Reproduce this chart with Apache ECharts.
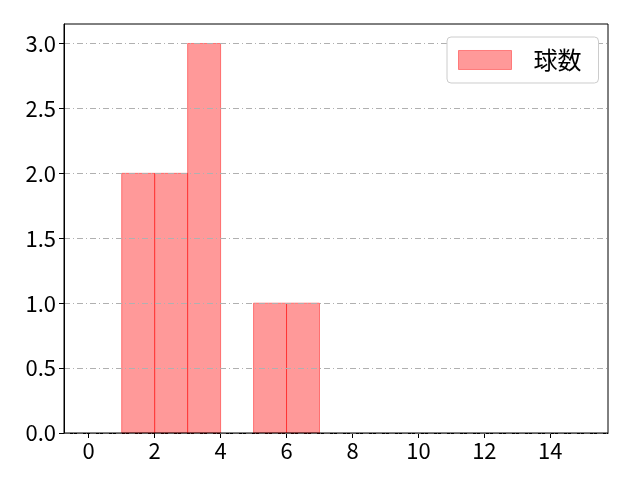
<!DOCTYPE html>
<html>
<head>
<meta charset="utf-8">
<script src="https://cdn.jsdelivr.net/npm/echarts@6/dist/echarts.min.js"></script>
<style>
  html, body { margin: 0; padding: 0; background: #fff; }
  #chart { width: 640px; height: 480px; }
</style>
</head>
<body>
<div id="chart"></div>
<script>
// bin edges (left side, width 1) and counts
var binStarts = [0, 1, 2, 3, 4, 5, 6, 7, 8, 9, 10, 11, 12, 13, 14];
var binWidth = 1;
var counts = [0, 2, 2, 3, 0, 1, 1, 0, 0, 0, 0, 0, 0, 0, 0];
var xTicks = [0, 2, 4, 6, 8, 10, 12, 14];
var yTicks = [0, 0.5, 1.0, 1.5, 2.0, 2.5, 3.0];
var seriesName = '球数';

var font = '"Noto Sans CJK JP", "DejaVu Sans", sans-serif';

var histData = [];
for (var i = 0; i < binStarts.length; i++) {
    if (counts[i] > 0) {
        histData.push([binStarts[i], binStarts[i] + binWidth, counts[i]]);
    }
}

var myChart = echarts.init(document.getElementById('chart'));

myChart.setOption({
    animation: false,
    grid: { left: 64, right: 32, top: 24, bottom: 47 },
    legend: {
        left: 447,
        top: 37,
        padding: [11, 17, 11, 11],
        borderColor: '#cccccc',
        borderWidth: 1,
        borderRadius: 4,
        backgroundColor: '#ffffff',
        itemWidth: 53,
        itemHeight: 19,
        icon: 'rect',
        textStyle: { fontFamily: font, fontSize: 24, color: '#000', padding: [0, 0, 0, 17] },
        data: [{ name: seriesName, itemStyle: { color: 'rgba(255,0,0,0.4)', borderColor: 'rgba(255,0,0,0.4)', borderWidth: 1 } }]
    },
    xAxis: {
        type: 'value',
        min: -0.75,
        max: 15.75,
        splitLine: { show: false },
        axisLine: { onZero: false, lineStyle: { color: '#000', width: 1 } },
        axisTick: { show: true, length: 5, lineStyle: { color: '#000' }, customValues: xTicks },
        axisLabel: { fontFamily: font, fontSize: 22, color: '#000', margin: 7, customValues: xTicks }
    },
    yAxis: {
        type: 'value',
        min: 0,
        max: 3.15,
        z: 3,
        axisLine: { show: true, onZero: false, lineStyle: { color: '#000', width: 1 } },
        axisTick: { show: true, length: 5, lineStyle: { color: '#000' }, customValues: yTicks },
        axisLabel: {
            fontFamily: font, fontSize: 22, color: '#000', margin: 8,
            customValues: yTicks,
            formatter: function (v) { return v.toFixed(1); }
        },
        splitLine: {
            show: true,
            customValues: yTicks,
            lineStyle: { color: '#b0b0b0', width: 1, type: [6, 3, 1, 3] }
        }
    },
    series: [{
        name: seriesName,
        type: 'custom',
        data: histData,
        encode: { x: [0, 1], y: 2 },
        renderItem: function (params, api) {
            var p0 = api.coord([api.value(0), 0]);
            var p1 = api.coord([api.value(1), api.value(2)]);
            return {
                type: 'rect',
                shape: { x: p0[0], y: p1[1], width: p1[0] - p0[0], height: p0[1] - p1[1] },
                style: { fill: 'rgba(255,0,0,0.4)', stroke: 'rgba(255,0,0,0.45)', lineWidth: 1 }
            };
        }
    }],
    graphic: [{
        type: 'rect',
        shape: { x: 64, y: 24, width: 544, height: 409 },
        style: { fill: 'none', stroke: '#000', lineWidth: 1 },
        z: 10,
        silent: true
    }]
});
</script>
</body>
</html>
